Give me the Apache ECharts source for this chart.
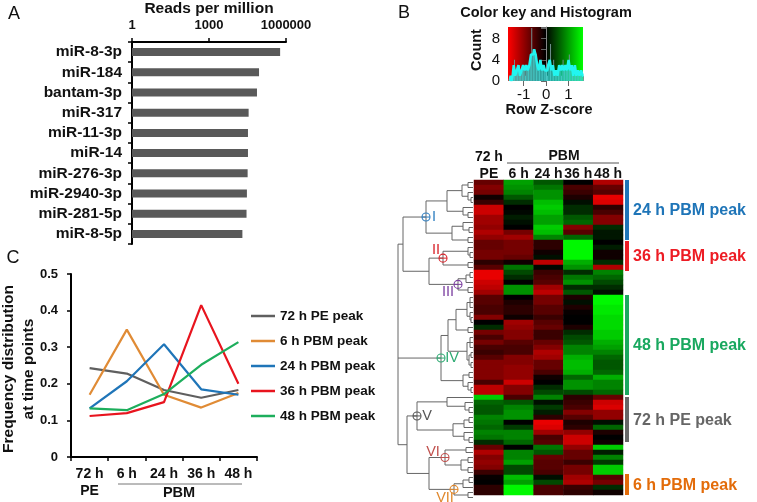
<!DOCTYPE html>
<html><head><meta charset="utf-8">
<style>html,body{margin:0;padding:0;background:#fff}#c{width:757px;height:502px}</style>
<script src="https://cdn.jsdelivr.net/npm/echarts@6/dist/echarts.min.js"></script>
</head><body><div id="c"></div>
<script>
const mirnaNames = ['miR-8-3p','miR-184','bantam-3p','miR-317','miR-11-3p','miR-14','miR-276-3p','miR-2940-3p','miR-281-5p','miR-8-5p'];
const readsPerMillion = [590000,89000,74000,35000,33000,33000,32000,30000,29000,20000];

const timeLabels = ['72 h\nPE','6 h','24 h','36 h','48 h'];
const peak72PE = [0.243,0.228,0.183,0.162,0.183];
const peak6PBM = [0.17,0.348,0.17,0.135,0.175];
const peak24PBM = [0.133,0.207,0.308,0.185,0.17];
const peak36PBM = [0.112,0.12,0.15,0.415,0.2];
const peak48PBM = [0.133,0.128,0.172,0.252,0.314];

const heatColumns = ['72 h\nPE','6 h','24 h','36 h','48 h'];
const zPE72 = [-.7,-.9,-.8,-.1,-.4,-1.4,-1.4,-1.1,-1.1,-1,-1.2,-1,-.7,-.7,-.8,-.8,-.3,-.6,-1.6,-1.6,-1.4,-1.3,-1.1,-.6,-.6,-.5,-.5,-.9,0,.3,-.8,-.5,-.8,-.5,-.4,-.6,-.9,-.9,-.9,-.9,-.5,-1.3,-1.3,1.4,.7,.6,.6,.9,.8,.7,.9,.8,.3,-.7,-1.2,-.9,-1,-.9,-.4,-.05,0,-.3,-.3];
const zPBM6 = [1.1,1,.9,.6,.3,0,.05,.2,.1,0,-.8,-1.1,-.8,-.8,-.8,-.7,-.1,.8,.5,.3,0,1,1,0,-.2,-.3,-.3,-.1,-1.1,-1,-.9,-.9,-.6,-.5,-.5,-.9,-.9,-1,-1,-1,-1.4,-.9,-.9,-.5,.6,.9,1,1,0,.4,.9,.9,.7,0,.9,.9,1.1,.5,.5,1.3,1.1,1.7,1.7];
const zPBM24 = [.6,.8,1,1,1.3,1.4,1.3,1.1,1.1,1.4,1.3,.9,-.3,-.3,-.1,.1,-1.3,.05,-.4,-.5,-.6,-1.1,-1.3,-.8,-.8,-.6,-.6,-.4,-.6,-.7,-.4,-.4,-.7,-.9,-1.2,-1.1,-.7,-.7,-.5,-.1,0,.3,.5,.9,.1,.4,.2,-.3,-1.6,-1.5,-1.1,-.5,-.6,.8,.6,-.7,-.6,-.6,-.5,.1,.5,-.5,-.5];
const zPBM36 = [0,-.5,-.4,-.2,.1,.3,.3,.6,.7,-.9,-.6,.7,1.7,1.7,1.7,1.7,1.2,1,.3,.8,1,.3,.6,-.2,.1,-.2,-.05,0,0,-.2,.3,.5,.6,.9,.9,1.2,1.3,1.3,1.2,.7,1,1,.5,-.3,-.4,-.5,-.9,-.6,-.2,-.3,-1,-1.4,-1.4,-1,-.7,-.7,-.4,-.8,-.8,-1.1,-1.2,-.4,-.3];
const zPBM48 = [-1.2,-.7,-.6,-1.6,-1.5,-.3,-.5,-.9,-.9,.3,.15,.15,0,.2,-.1,-.1,.3,-1.2,.9,.7,.5,.3,.1,1.7,1.7,1.6,1.6,1.5,1.5,1.5,1.4,1.4,1.2,1.1,.9,.7,.6,.6,.7,1.2,.9,.9,.7,-.7,-1.4,-1.5,-1,-1,.1,.7,-.2,0,-.1,1.4,.2,.9,.4,1.4,1.4,-.6,-.8,.3,-.1];

const clusterNames = ['24 h PBM peak','36 h PBM peak','48 h PBM peak','72 h PE peak','6 h PBM peak'];
const clusterFirstRow = [0,12.2,23,43.4,58.8];
const clusterLastRow = [12,18.2,43,52.4,63];

const histSpikes = [0,1,0,4,1,2,3,1,2,3,1,3,2,4,10,6,6,5,3,2,4,2,3,2,1,3,7,2,4,1,2,1,3,1,4,2,3,2,5,2,3,1,3,1,2,1,2,1];
const histCyan = [0,1,0,3,1,2,3,1,2,3,2,3,2,3,5,5,6,5,3,2,4,2,3,2,2,3,4,2,3,1,2,1,3,2,3,2,3,2,4,2,3,1,3,1,2,1,2,1];

// Dendrogram: [merge height, child, child...]; 0 is a leaf; [height, tag] marks a labelled node
const dendrogram = [75,
  [70,
    [[47,'I'],
      [26,[11,[5,0,0],[5,0,[2,0,0]]],[10,0,[5,0,0]]],
      [21,[10,0,[4,0,0]],[5,0,0]]],
    [44,
      [[30,'II'],[5,0,[3,0,0]],[5,0,0]],
      [[15,'III'],[7,[3,0,0],0],[5,0,0]]]],
  [[32,'IV'],
    [25,
      [17,[6,[3,0,0,0],[3,0,[2,0,0]]],[5,0,0]],
      [6,[3,0,0,0],[4,[2,0,0],[2,0,0]]]],
    [10,[4,0,0],[5,0,[2,0,0]]]],
  [66,
    [[56,'V'],
      [26,0,[8,0,[4,0,0]]],
      [20,[9,[4,0,0],0],[9,0,[4,0,0]]]],
    [44,
      [[28,'VI'],[7,0,0],[12,[5,0,0],[5,0,0]]],
      [[19,'VII'],[10,[4,0,0],0],[5,0,0]]]]
];
const markStyle = {
  I:{c:'#2F7FC1',dx:8,dy:0}, II:{c:'#D8232A',dx:-7,dy:-8},
  III:{c:'#7B3FA0',dx:-10,dy:8}, IV:{c:'#2DAA72',dx:11,dy:0},
  V:{c:'#555555',dx:10,dy:0}, VI:{c:'#C0504D',dx:-12,dy:-6},
  VII:{c:'#E0882D',dx:-9,dy:9}
};

// walk the tree: leaves are consecutive rows
const segs = [], marks = [];
let leaf = 0;
function walk(n){
  if (n === 0) return {h:0, y:(leaf++) + .5};
  const head = n[0], h = Array.isArray(head) ? head[0] : head, tag = Array.isArray(head) ? head[1] : null;
  const kids = n.slice(1).map(walk);
  kids.forEach(k => segs.push([h,k.y,k.h,k.y]));
  const y1 = kids[0].y, y2 = kids[kids.length-1].y;
  segs.push([h,y1,h,y2]);
  const y = (y1+y2)/2;
  if (tag) marks.push([h,y,tag]);
  return {h,y};
}
walk(dendrogram);

const F = '"Liberation Sans",Arial,sans-serif';
const COL = {gray:'#5f5f5f',orange:'#E08B35',blue:'#1F75B8',red:'#E8141E',green:'#1DAE5C'};
const clusterColors = [COL.blue,'#ED1C24','#19A85F','#666666','#E36C0A'];
const txt = (text,x,y,size,weight,extra) => ({type:'text',silent:true,...(extra||{}),
  x,y,style:{text,textAlign:'center',verticalAlign:'middle',fill:'#111',font:`${weight} ${size}px ${F}`}});
const lineEl = (x1,y1,x2,y2,c) => ({type:'line',silent:true,shape:{x1,y1,x2,y2},style:{stroke:c||'#777',lineWidth:1}});

const blackLine = {show:true,onZero:false,lineStyle:{color:'#000',width:2}};
const blackTick = {show:true,length:4,lineStyle:{color:'#000',width:1.5}};
const lab = size => ({fontFamily:F,fontWeight:'bold',fontSize:size,color:'#111'});
const heatData = [];
[zPE72,zPBM6,zPBM24,zPBM36,zPBM48].forEach((col,i)=>col.forEach((v,r)=>heatData.push([i,r,v])));
const rowIdx = zPE72.map((_,i)=>String(i));

const option = {
  animation:false, backgroundColor:'#fff',
  visualMap:{show:false,seriesIndex:6,min:-1.75,max:1.75,dimension:2,inRange:{color:['#ff0000','#000000','#00ff00']}},
  legend:{left:251,top:309,orient:'vertical',padding:0,itemWidth:24,itemHeight:2.5,itemGap:11,icon:'rect',
    data:['72 h PE peak','6 h PBM peak','24 h PBM peak','36 h PBM peak','48 h PBM peak'],
    textStyle:{fontFamily:F,fontWeight:'bold',fontSize:13.5,lineHeight:14,color:'#111'},selectedMode:false},
  grid:[
    {left:132,top:40,width:154,height:204},
    {left:71,top:274,width:186,height:183},
    {left:508,top:27,width:75,height:54,show:true,borderWidth:0,
     backgroundColor:new echarts.graphic.LinearGradient(0,0,1,0,[{offset:0,color:'#f00'},{offset:.5,color:'#000'},{offset:1,color:'#0f0'}])},
    {left:474,top:180,width:149,height:315},
    {left:392,top:180,width:81,height:315},
    {left:625,top:180,width:4,height:315}
  ],
  xAxis:[
    {gridIndex:0,type:'log',logBase:1000,min:1,max:1000000,position:'top',axisLine:blackLine,axisTick:blackTick,splitLine:{show:false},minorTick:{show:false},
     axisLabel:{...lab(13),margin:10,formatter:v=>String(Math.round(v)),hideOverlap:false,showMinLabel:true,showMaxLabel:true,alignMinLabel:'center',alignMaxLabel:'center'},
     name:'Reads per million',nameLocation:'middle',nameGap:25,nameTextStyle:lab(15.5)},
    {gridIndex:1,type:'category',data:timeLabels,axisLine:blackLine,axisTick:blackTick,
     axisLabel:{...lab(14),margin:9,lineHeight:17,interval:0}},
    {gridIndex:2,type:'value',min:-1.7,max:1.65,axisLine:{show:false},splitLine:{show:false},
     axisTick:{show:true,length:5,lineStyle:{color:'#666'},customValues:[-1,0,1]},
     axisLabel:{customValues:[-1,0,1],fontFamily:F,fontSize:15,color:'#111',margin:6}},
    {gridIndex:3,type:'category',position:'top',data:heatColumns,axisLine:{show:false},axisTick:{show:false},
     axisLabel:{...lab(14),margin:-3,lineHeight:17,interval:0}},
    {gridIndex:4,type:'value',min:0,max:81,inverse:true,show:false},
    {gridIndex:5,type:'value',min:0,max:1,show:false}
  ],
  yAxis:[
    {gridIndex:0,type:'category',data:mirnaNames,inverse:true,axisLine:blackLine,axisTick:blackTick,axisLabel:{...lab(15.5),margin:10,interval:0}},
    {gridIndex:1,type:'value',min:0,max:.5,interval:.1,axisLine:blackLine,axisTick:blackTick,splitLine:{show:false},
     axisLabel:{...lab(13),margin:13,formatter:v=>v===0?'0':v.toFixed(1)}},
    {gridIndex:2,type:'value',min:0,max:10.2,interval:2,axisLine:{show:true,lineStyle:{color:'#888'}},axisTick:{show:true,length:5,lineStyle:{color:'#666'}},splitLine:{show:false},
     axisLabel:{fontFamily:F,fontSize:15,color:'#111',margin:8,formatter:v=>v%4===0?String(v):''}},
    {gridIndex:3,type:'category',data:rowIdx,inverse:true,show:false},
    {gridIndex:4,type:'value',min:0,max:63,inverse:true,show:false},
    {gridIndex:5,type:'value',min:0,max:63,inverse:true,show:false}
  ],
  series:[
    {name:'Reads',type:'bar',xAxisIndex:0,yAxisIndex:0,data:readsPerMillion,barWidth:8,itemStyle:{color:'#595959'}},
    {name:'72 h PE peak',type:'line',xAxisIndex:1,yAxisIndex:1,data:peak72PE,symbol:'none',lineStyle:{color:COL.gray,width:2.2},itemStyle:{color:COL.gray}},
    {name:'6 h PBM peak',type:'line',xAxisIndex:1,yAxisIndex:1,data:peak6PBM,symbol:'none',lineStyle:{color:COL.orange,width:2.2},itemStyle:{color:COL.orange}},
    {name:'24 h PBM peak',type:'line',xAxisIndex:1,yAxisIndex:1,data:peak24PBM,symbol:'none',lineStyle:{color:COL.blue,width:2.2},itemStyle:{color:COL.blue}},
    {name:'36 h PBM peak',type:'line',xAxisIndex:1,yAxisIndex:1,data:peak36PBM,symbol:'none',lineStyle:{color:COL.red,width:2.2},itemStyle:{color:COL.red}},
    {name:'48 h PBM peak',type:'line',xAxisIndex:1,yAxisIndex:1,data:peak48PBM,symbol:'none',lineStyle:{color:COL.green,width:2.2},itemStyle:{color:COL.green}},
    {name:'Heat',type:'heatmap',xAxisIndex:3,yAxisIndex:3,data:heatData,itemStyle:{borderWidth:0}},
    {name:'HistSpikes',type:'bar',xAxisIndex:2,yAxisIndex:2,barWidth:1,itemStyle:{color:'#6f8f8f'},
     data:histSpikes.map((v,i)=>[-1.62+i*.07,v])},
    {name:'HistCyan',type:'line',step:'middle',xAxisIndex:2,yAxisIndex:2,symbol:'none',lineStyle:{color:'#22f5f0',width:2.5},
     areaStyle:{color:'#22f5f0',opacity:.55},
     data:histCyan.map((v,i)=>[-1.62+i*.07,v])},
    {name:'Dendro',type:'custom',xAxisIndex:4,yAxisIndex:4,data:segs,clip:false,silent:true,
     renderItem:(p,api)=>{const a=api.coord([api.value(0),api.value(1)]),b=api.coord([api.value(2),api.value(3)]);
       return {type:'line',shape:{x1:a[0],y1:a[1],x2:b[0],y2:b[1]},style:{stroke:'#666',lineWidth:1,fill:null}};}},
    {name:'Marks',type:'custom',xAxisIndex:4,yAxisIndex:4,data:marks,clip:false,silent:true,
     dimensions:['h','y',{name:'tag',type:'ordinal'}],
     renderItem:(p,api)=>{const m=marks[p.dataIndex],c=api.coord([m[0],m[1]]),s=markStyle[m[2]];
       return {type:'group',children:[
         {type:'circle',shape:{cx:c[0],cy:c[1],r:4},style:{fill:'rgba(255,255,255,0)',stroke:s.c,lineWidth:1.1}},
         {type:'line',shape:{x1:c[0]-4,y1:c[1],x2:c[0]+4,y2:c[1]},style:{stroke:s.c,lineWidth:1}},
         {type:'text',x:c[0]+s.dx,y:c[1]+s.dy,style:{text:m[2],fill:s.c,textAlign:'center',verticalAlign:'middle',font:`14.5px ${F}`}}
       ]};}},
    {name:'Clusters',type:'custom',xAxisIndex:5,yAxisIndex:5,clip:false,silent:true,
     data:clusterNames.map((n,i)=>[clusterFirstRow[i],clusterLastRow[i]]),
     renderItem:(p,api)=>{const i=p.dataIndex,a=api.coord([0,api.value(0)]),b=api.coord([1,api.value(1)]);
       return {type:'group',children:[
         {type:'rect',shape:{x:a[0],y:a[1],width:b[0]-a[0],height:b[1]-a[1]},style:{fill:clusterColors[i]}},
         {type:'text',x:633,y:(a[1]+b[1])/2+1,style:{text:clusterNames[i],fill:clusterColors[i],textAlign:'left',verticalAlign:'middle',font:`bold 16px ${F}`}}
       ]};}}
  ],
  graphic:[
    txt('A',14,14,18,'normal'), txt('B',404,13,18,'normal'), txt('C',13,258,18,'normal'),
    txt('Color key and Histogram',546,13,14.5,'bold'),
    txt('Row Z-score',549,110,14.5,'bold'),
    txt('Count',477,50,14.5,'bold',{rotation:Math.PI/2}),
    txt('Frequency distribution',9,369,15.5,'bold',{rotation:Math.PI/2}),
    txt('at time points',29,369,15.5,'bold',{rotation:Math.PI/2}),
    lineEl(118,484,242,484), txt('PBM',179,493,14.5,'bold'),
    txt('PBM',564,156,14,'bold'), lineEl(507,163,619,163,'#555')
  ]
};
echarts.init(document.getElementById('c'),null,{renderer:'canvas'}).setOption(option);
</script></body></html>
